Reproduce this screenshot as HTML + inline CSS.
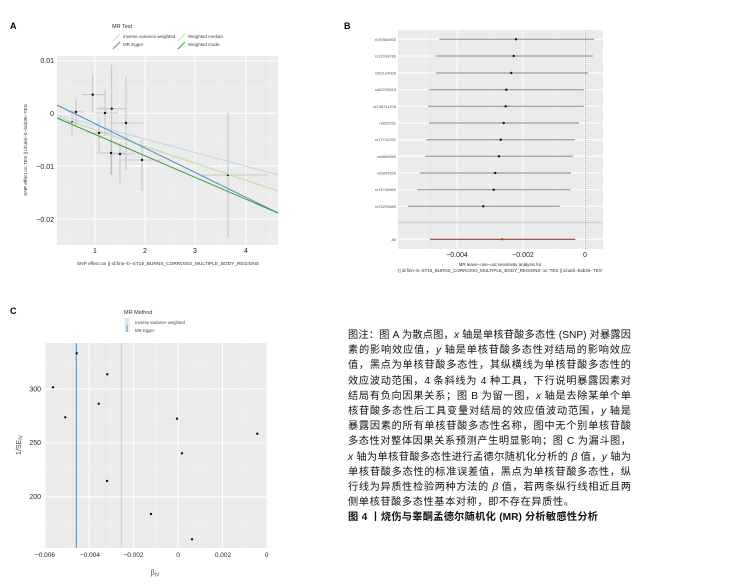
<!DOCTYPE html>
<html><head><meta charset="utf-8"><style>
body{margin:0;background:#fff;width:733px;height:584px;overflow:hidden;position:relative;font-family:"Liberation Sans","Noto Sans CJK SC",sans-serif}
svg{position:absolute;left:0;top:0}
.tx{position:absolute;left:348px;width:283px;font-size:10.2px;line-height:15.2px;color:#111;text-align:justify;text-align-last:justify;white-space:nowrap;font-family:"Liberation Sans","Noto Sans CJK SC",sans-serif}
.tx div{height:15.2px}
</style></head><body>
<svg width="733" height="584" font-family="Liberation Sans, sans-serif">
<text x="10" y="29" font-size="9" font-weight="bold">A</text>
<text x="112" y="28" font-size="5.5" fill="#333">MR Test</text>
<line x1="113" y1="41" x2="120" y2="34" stroke="#b9d7e8" stroke-width="1"/>
<text x="123" y="38" font-size="4.5" fill="#444">Inverse variance weighted</text>
<line x1="113" y1="49" x2="120" y2="42" stroke="#4a8fc2" stroke-width="1"/>
<text x="123" y="46" font-size="4.5" fill="#444">MR Egger</text>
<line x1="178" y1="41" x2="185" y2="34" stroke="#b8df9c" stroke-width="1"/>
<text x="188" y="38" font-size="4.5" fill="#444">Weighted median</text>
<line x1="178" y1="49" x2="185" y2="42" stroke="#3a9a45" stroke-width="1"/>
<text x="188" y="46" font-size="4.5" fill="#444">Weighted mode</text>
<rect x="57" y="56" width="221" height="189" fill="#ebebeb"/>
<g stroke="#f5f5f5" stroke-width="0.5"><line x1="70" y1="56" x2="70" y2="245"/><line x1="120" y1="56" x2="120" y2="245"/><line x1="170" y1="56" x2="170" y2="245"/><line x1="221" y1="56" x2="221" y2="245"/><line x1="271" y1="56" x2="271" y2="245"/>
<line x1="57" y1="87" x2="278" y2="87"/><line x1="57" y1="140" x2="278" y2="140"/><line x1="57" y1="192" x2="278" y2="192"/><line x1="57" y1="240" x2="278" y2="240"/></g>
<g stroke="#fff" stroke-width="1"><line x1="95" y1="56" x2="95" y2="245"/><line x1="145" y1="56" x2="145" y2="245"/><line x1="195" y1="56" x2="195" y2="245"/><line x1="246" y1="56" x2="246" y2="245"/>
<line x1="57" y1="60.7" x2="278" y2="60.7"/><line x1="57" y1="113.3" x2="278" y2="113.3"/><line x1="57" y1="166" x2="278" y2="166"/><line x1="57" y1="219" x2="278" y2="219"/></g>
<g stroke="#bcbcbc" stroke-width="0.8">
<line x1="92.7" y1="75" x2="92.7" y2="113"/><line x1="82" y1="94.7" x2="105" y2="94.7"/>
<line x1="76" y1="99" x2="76" y2="126"/><line x1="68" y1="112" x2="84" y2="112"/>
<line x1="72" y1="110" x2="72" y2="136"/><line x1="66" y1="122" x2="78" y2="122"/>
<line x1="105" y1="90" x2="105" y2="136"/><line x1="95" y1="113" x2="118" y2="113"/>
<line x1="111.7" y1="65" x2="111.7" y2="175"/><line x1="97" y1="108.7" x2="126" y2="108.7"/>
<line x1="126" y1="77" x2="126" y2="170"/><line x1="109" y1="123" x2="143" y2="123"/>
<line x1="99" y1="118" x2="99" y2="152"/><line x1="87" y1="133" x2="112" y2="133"/>
<line x1="111" y1="139" x2="111" y2="175"/><line x1="97" y1="153" x2="126" y2="153"/>
<line x1="120" y1="142" x2="120" y2="183"/><line x1="110" y1="154" x2="135" y2="154"/>
<line x1="142" y1="140" x2="142" y2="191"/><line x1="121" y1="160" x2="161" y2="160"/>
<line x1="228" y1="113" x2="228" y2="237"/><line x1="202" y1="175" x2="268" y2="175"/></g>
<g fill="#111"><circle cx="92.7" cy="94.7" r="1.2"/><circle cx="76" cy="112" r="1.2"/><circle cx="72" cy="122" r="1.2"/><circle cx="105" cy="113" r="1.2"/><circle cx="111.7" cy="108.7" r="1.2"/><circle cx="126" cy="123" r="1.2"/><circle cx="99" cy="133" r="1.2"/><circle cx="111" cy="153" r="1.2"/><circle cx="120" cy="154" r="1.2"/><circle cx="142" cy="160" r="1.2"/><circle cx="228" cy="175" r="1.2"/></g>
<line x1="57" y1="115" x2="278" y2="175" stroke="#b9d7e8" stroke-width="1"/>
<line x1="57" y1="117" x2="278" y2="191" stroke="#b8df9c" stroke-width="1"/>
<line x1="57" y1="105" x2="278" y2="213" stroke="#4a8fc2" stroke-width="1"/>
<line x1="57" y1="118" x2="278" y2="213" stroke="#3a9a45" stroke-width="1"/>
<g font-size="7" fill="#222" text-anchor="end"><text x="54" y="63">0.01</text><text x="54" y="116">0</text><text x="54" y="169">−0.01</text><text x="54" y="222">−0.02</text></g>
<g font-size="7" fill="#222" text-anchor="middle"><text x="95" y="253">1</text><text x="145" y="253">2</text><text x="195" y="253">3</text><text x="246" y="253">4</text></g>
<text x="168" y="265" font-size="4.8" fill="#333" text-anchor="middle">SNP effect on || id:finn−b−ST19_BURNS_CORROSIO_MULTIPLE_BODY_REGIONS</text>
<text transform="translate(27,150) rotate(-90)" font-size="4.8" fill="#333" text-anchor="middle">SNP effect on TES || id:ukb−b−bab35−TES</text>

<text x="344" y="29" font-size="9" font-weight="bold">B</text>
<rect x="398" y="30" width="205" height="219" fill="#ebebeb"/>
<g stroke="#f5f5f5" stroke-width="0.5"><line x1="425" y1="30" x2="425" y2="249"/><line x1="490" y1="30" x2="490" y2="249"/><line x1="554" y1="30" x2="554" y2="249"/></g>
<g stroke="#fff" stroke-width="1"><line x1="457" y1="30" x2="457" y2="249"/><line x1="523" y1="30" x2="523" y2="249"/><line x1="585" y1="30" x2="585" y2="249"/>
<line x1="398" y1="39.3" x2="603" y2="39.3"/><line x1="398" y1="56" x2="603" y2="56"/><line x1="398" y1="73" x2="603" y2="73"/><line x1="398" y1="89.7" x2="603" y2="89.7"/><line x1="398" y1="106.3" x2="603" y2="106.3"/><line x1="398" y1="123" x2="603" y2="123"/><line x1="398" y1="139.7" x2="603" y2="139.7"/><line x1="398" y1="156.3" x2="603" y2="156.3"/><line x1="398" y1="173" x2="603" y2="173"/><line x1="398" y1="189.7" x2="603" y2="189.7"/><line x1="398" y1="206.3" x2="603" y2="206.3"/><line x1="398" y1="239.3" x2="603" y2="239.3"/></g>
<line x1="398" y1="222.5" x2="603" y2="222.5" stroke="#d0d0d0" stroke-width="1.5"/>
<line x1="585.5" y1="30" x2="585.5" y2="249" stroke="#777" stroke-width="0.6" stroke-dasharray="1,1"/>
<g stroke="#8a8a8a" stroke-width="1"><line x1="439.3" y1="39.3" x2="594" y2="39.3"/><line x1="435.7" y1="56" x2="592.7" y2="56"/><line x1="435.7" y1="73" x2="588" y2="73"/><line x1="429.3" y1="89.7" x2="583.7" y2="89.7"/><line x1="428" y1="106.3" x2="583.7" y2="106.3"/><line x1="429" y1="123" x2="579" y2="123"/><line x1="426.3" y1="139.7" x2="575" y2="139.7"/><line x1="425.3" y1="156.3" x2="573" y2="156.3"/><line x1="419.7" y1="173" x2="571" y2="173"/><line x1="417.3" y1="189.7" x2="570.3" y2="189.7"/><line x1="407.7" y1="206.3" x2="559.7" y2="206.3"/></g>
<line x1="430" y1="239.3" x2="575.3" y2="239.3" stroke="#e0201b" stroke-width="1.2"/>
<g fill="#111"><circle cx="516" cy="39.3" r="1.2"/><circle cx="513.7" cy="56" r="1.2"/><circle cx="511.3" cy="73" r="1.2"/><circle cx="506.3" cy="89.7" r="1.2"/><circle cx="505.7" cy="106.3" r="1.2"/><circle cx="503.7" cy="123" r="1.2"/><circle cx="500.7" cy="139.7" r="1.2"/><circle cx="499" cy="156.3" r="1.2"/><circle cx="495.3" cy="173" r="1.2"/><circle cx="493.7" cy="189.7" r="1.2"/><circle cx="483.3" cy="206.3" r="1.2"/></g>
<circle cx="502.3" cy="239.3" r="1.2" fill="#e0201b"/>
<g font-size="4" fill="#555" text-anchor="end"><text x="396" y="40.8">rs76984955</text><text x="396" y="57.5">rs12934780</text><text x="396" y="74.5">rs62124606</text><text x="396" y="91.2">rs62215615</text><text x="396" y="107.8">rs138711708</text><text x="396" y="124.5">rs825251</text><text x="396" y="141.2">rs77710251</text><text x="396" y="157.8">rs6860550</text><text x="396" y="174.5">rs6847526</text><text x="396" y="191.2">rs74749669</text><text x="396" y="207.8">rs75299689</text><text x="396" y="240.8">All</text></g>
<g font-size="7" fill="#222" text-anchor="middle"><text x="457" y="257">−0.004</text><text x="523" y="257">−0.002</text><text x="585" y="257">0</text></g>
<text x="500" y="266" font-size="4.5" fill="#333" text-anchor="middle">MR leave−one−out sensitivity analysis for</text>
<text x="500" y="272" font-size="4.5" fill="#333" text-anchor="middle">'|| id:finn−b−ST19_BURNS_CORROSIO_MULTIPLE_BODY_REGIONS' on 'TES || id:ukb−bab35−TES'</text>

<text x="10" y="314" font-size="9" font-weight="bold">C</text>
<text x="124" y="314" font-size="5.5" fill="#333">MR Method</text>
<rect x="124" y="318" width="6" height="14" fill="#f0f0f0"/>
<line x1="127" y1="318" x2="127" y2="325" stroke="#b9d7e8" stroke-width="1"/>
<line x1="127" y1="325" x2="127" y2="332" stroke="#4a8fc2" stroke-width="1"/>
<text x="135" y="324" font-size="4.3" fill="#444">Inverse variance weighted</text>
<text x="135" y="332" font-size="4.3" fill="#444">MR Egger</text>
<rect x="44.3" y="343" width="222.4" height="205" fill="#ebebeb"/>
<g stroke="#f5f5f5" stroke-width="0.5"><line x1="67" y1="343" x2="67" y2="548"/><line x1="111" y1="343" x2="111" y2="548"/><line x1="156" y1="343" x2="156" y2="548"/><line x1="200" y1="343" x2="200" y2="548"/><line x1="245" y1="343" x2="245" y2="548"/>
<line x1="44.3" y1="362" x2="266.7" y2="362"/><line x1="44.3" y1="416" x2="266.7" y2="416"/><line x1="44.3" y1="470" x2="266.7" y2="470"/><line x1="44.3" y1="523" x2="266.7" y2="523"/></g>
<g stroke="#fff" stroke-width="1"><line x1="45" y1="343" x2="45" y2="548"/><line x1="89" y1="343" x2="89" y2="548"/><line x1="133.5" y1="343" x2="133.5" y2="548"/><line x1="178" y1="343" x2="178" y2="548"/><line x1="222.5" y1="343" x2="222.5" y2="548"/>
<line x1="44.3" y1="389" x2="266.7" y2="389"/><line x1="44.3" y1="442.7" x2="266.7" y2="442.7"/><line x1="44.3" y1="496.7" x2="266.7" y2="496.7"/></g>
<line x1="76.3" y1="343" x2="76.3" y2="548" stroke="#4a8fc2" stroke-width="1"/>
<line x1="121.3" y1="343" x2="121.3" y2="548" stroke="#b9d7e8" stroke-width="1"/>
<g fill="#111"><circle cx="53" cy="387.3" r="1.2"/><circle cx="65.3" cy="417.3" r="1.2"/><circle cx="76.7" cy="353.3" r="1.2"/><circle cx="98.7" cy="403.7" r="1.2"/><circle cx="107.3" cy="374.3" r="1.2"/><circle cx="107" cy="481" r="1.2"/><circle cx="151" cy="514" r="1.2"/><circle cx="177" cy="418.7" r="1.2"/><circle cx="182" cy="453.3" r="1.2"/><circle cx="192" cy="539.3" r="1.2"/><circle cx="257.3" cy="433.7" r="1.2"/></g>
<g font-size="7" fill="#222" text-anchor="end"><text x="41" y="391.5">300</text><text x="41" y="445.2">250</text><text x="41" y="499.2">200</text></g>
<g font-size="6.5" fill="#222" text-anchor="middle"><text x="45" y="557">−0.006</text><text x="90" y="557">−0.004</text><text x="133.5" y="557">−0.002</text><text x="178" y="557">0</text><text x="223" y="557">0.002</text><text x="266.7" y="557">0</text></g>
<text x="155" y="575" font-size="7" fill="#444" text-anchor="middle">β<tspan font-size="5" dy="1.5">IV</tspan></text>
<text transform="translate(21,445) rotate(-90)" font-size="7" fill="#444" text-anchor="middle">1/SE<tspan font-size="5" dy="1.5">IV</tspan></text>
</svg>
<div class="tx" style="top:328px">
<div>图注：图 A 为散点图，<i>x</i> 轴是单核苷酸多态性 (SNP) 对暴露因</div>
<div>素的影响效应值，<i>y</i> 轴是单核苷酸多态性对结局的影响效应</div>
<div>值，黑点为单核苷酸多态性，其纵横线为单核苷酸多态性的</div>
<div>效应波动范围，4 条斜线为 4 种工具，下行说明暴露因素对</div>
<div>结局有负向因果关系；图 B 为留一图，<i>x</i> 轴是去除某单个单</div>
<div>核苷酸多态性后工具变量对结局的效应值波动范围，<i>y</i> 轴是</div>
<div>暴露因素的所有单核苷酸多态性名称，图中无个别单核苷酸</div>
<div>多态性对整体因果关系预测产生明显影响；图 C 为漏斗图，</div>
<div><i>x</i> 轴为单核苷酸多态性进行孟德尔随机化分析的 <i>β</i> 值，<i>y</i> 轴为</div>
<div>单核苷酸多态性的标准误差值，黑点为单核苷酸多态性，纵</div>
<div>行线为异质性检验两种方法的 <i>β</i> 值，若两条纵行线相近且两</div>
<div style="text-align-last:left;letter-spacing:0.6px">侧单核苷酸多态性基本对称，即不存在异质性。</div>
<div style="width:250px;font-weight:bold">图 4 丨烧伤与睾酮孟德尔随机化 (MR) 分析敏感性分析</div>
</div>
</body></html>
